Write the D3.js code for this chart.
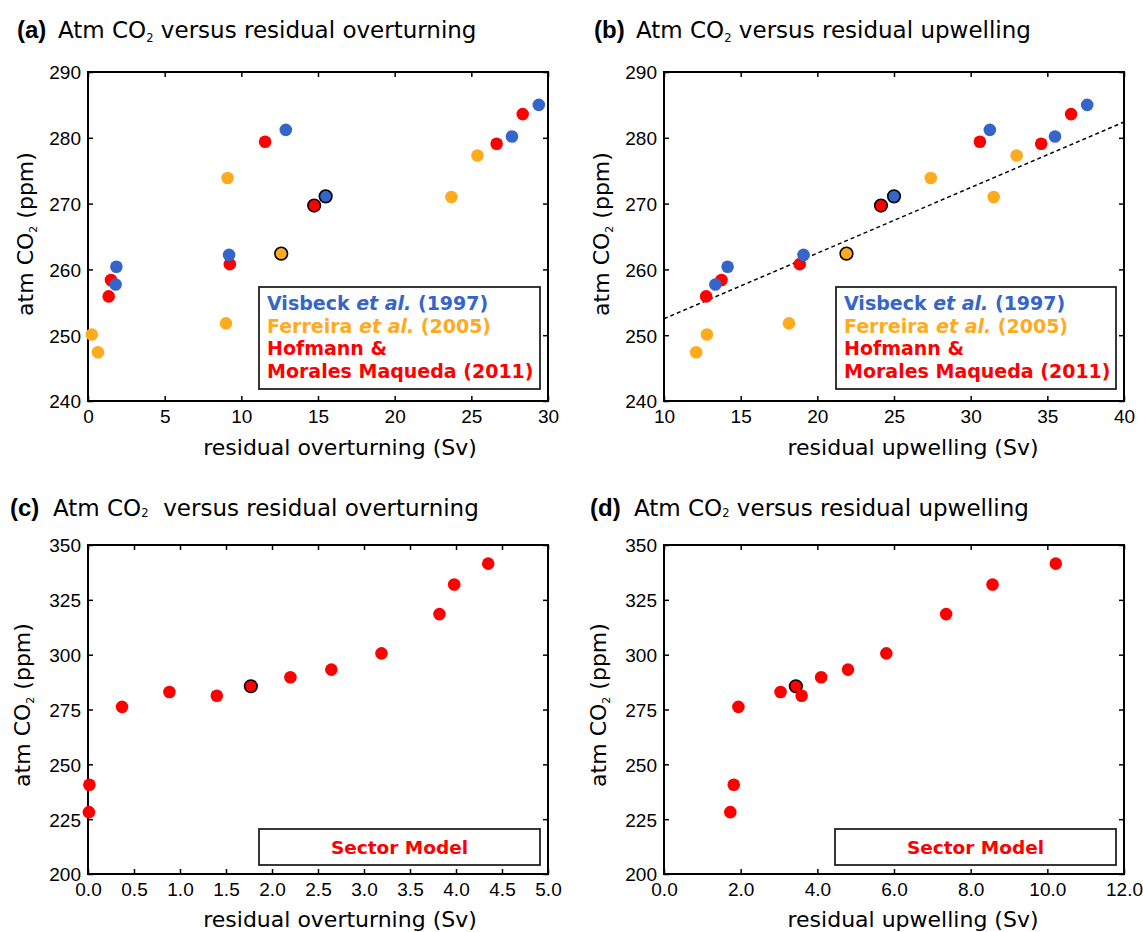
<!DOCTYPE html>
<html>
<head>
<meta charset="utf-8">
<script src="https://cdn.jsdelivr.net/npm/d3@7"></script>
<style>
  html, body { margin: 0; padding: 0; background: #fff; }
  svg { display: block; }
</style>
</head>
<body>
<svg id="chart" width="1143" height="932"></svg>
<script>
// ---------------- DATA ----------------
// Visbeck et al. (1997)
const visbeckOverturning = [29.4, 27.65, 12.9, 15.5, 9.2, 1.85, 1.8];
const visbeckUpwelling   = [37.6, 35.5, 31.25, 25.0, 19.1, 14.15, 13.35];
const visbeckCO2         = [285.0, 280.2, 281.2, 271.1, 262.2, 260.4, 257.7];
// Ferreira et al. (2005)
const ferreiraOverturning = [25.4, 23.7, 9.1, 12.6, 9.0, 0.25, 0.65];
const ferreiraUpwelling   = [33.0, 31.5, 27.4, 21.9, 18.15, 12.8, 12.1];
const ferreiraCO2         = [277.3, 271.0, 273.9, 262.4, 251.8, 250.1, 247.4];
// Hofmann & Morales Maqueda (2011)
const hofmannOverturning = [28.35, 26.65, 11.55, 14.75, 9.25, 1.5, 1.35];
const hofmannUpwelling   = [36.55, 34.6, 30.6, 24.15, 18.85, 13.75, 12.75];
const hofmannCO2         = [283.6, 279.1, 279.4, 269.7, 260.8, 258.4, 255.9];
// index of the reference (outlined) run in each model list
const modelReferenceIndex = 3;

// Sector model
const sectorOverturning = [4.35, 3.98, 3.82, 3.19, 2.645, 2.2, 1.77, 1.40, 0.885, 0.37, 0.015, 0.01];
const sectorUpwelling   = [10.22, 8.57, 7.36, 5.80, 4.80, 4.10, 3.44, 3.59, 3.04, 1.94, 1.82, 1.73];
const sectorCO2         = [341.5, 332.0, 318.5, 300.6, 293.2, 289.7, 285.6, 281.3, 283.0, 276.2, 240.7, 228.2];
const sectorReferenceIndex = 6;

// Dashed fit line in panel (b)
const trendUpwelling = [10, 40];
const trendCO2       = [252.5, 282.4];

// Axis ticks
const ticksOverturningA = [0, 5, 10, 15, 20, 25, 30];
const ticksUpwellingB   = [10, 15, 20, 25, 30, 35, 40];
const ticksCO2AB        = [240, 250, 260, 270, 280, 290];
const ticksOverturningC = [0, 0.5, 1, 1.5, 2, 2.5, 3, 3.5, 4, 4.5, 5];
const ticksUpwellingD   = [0, 2, 4, 6, 8, 10, 12];
const ticksCO2CD        = [200, 225, 250, 275, 300, 325, 350];

// Legend text
const seriesNames  = ["Visbeck", "Ferreira", "Hofmann"];
const legendYears  = ["(1997)", "(2005)", "(2011)"];

// ---------------- STYLE ----------------
const BLUE = "#3565c8", ORANGE = "#ffab1f", RED = "#ff0000";
const TICKFONT = "'Liberation Sans', Arial, sans-serif";
const LABFONT = "'DejaVu Sans', Verdana, sans-serif";

const svg = d3.select("#chart");

function zip(xs, ys) { return xs.map((x, i) => ({x, y: ys[i], i})); }

function panel(cfg) {
  const g = svg.append("g");
  const x = d3.scaleLinear().domain(cfg.xDomain).range([cfg.left, cfg.right]);
  const y = d3.scaleLinear().domain(cfg.yDomain).range([cfg.bottom, cfg.top]);

  // axes
  const fmtX = cfg.xFormat;
  const ax = g.append("g").attr("transform", `translate(0,${cfg.bottom})`)
    .call(d3.axisBottom(x).tickValues(cfg.xTicks).tickFormat(fmtX).tickSize(-5).tickPadding(9));
  const ay = g.append("g").attr("transform", `translate(${cfg.left},0)`)
    .call(d3.axisLeft(y).tickValues(cfg.yTicks).tickFormat(d3.format("d")).tickSize(-5).tickPadding(7));
  const at = g.append("g").attr("transform", `translate(0,${cfg.top})`)
    .call(d3.axisTop(x).tickValues(cfg.xTicks).tickFormat(() => "").tickSize(-5));
  const ar = g.append("g").attr("transform", `translate(${cfg.right},0)`)
    .call(d3.axisRight(y).tickValues(cfg.yTicks).tickFormat(() => "").tickSize(-5));
  [ax, ay, at, ar].forEach(a => {
    a.select(".domain").remove();
    a.selectAll("line").attr("stroke", "#000").attr("stroke-width", 1.5);
    a.selectAll("text").attr("font-family", TICKFONT).attr("font-size", 19).attr("fill", "#000");
  });
  ay.selectAll("text").attr("dy", "0.36em");

  // frame
  g.append("rect").attr("x", cfg.left).attr("y", cfg.top)
    .attr("width", cfg.right - cfg.left).attr("height", cfg.bottom - cfg.top)
    .attr("fill", "none").attr("stroke", "#000").attr("stroke-width", 2);

  // trend line
  if (cfg.trend) {
    g.append("path").datum(zip(cfg.trend[0], cfg.trend[1]))
      .attr("d", d3.line().x(d => x(d.x)).y(d => y(d.y)))
      .attr("fill", "none").attr("stroke", "#000").attr("stroke-width", 1.5)
      .attr("stroke-dasharray", "4,3");
  }

  // legend box
  const lb = cfg.legendBox;
  g.append("rect").attr("x", lb[0]).attr("y", lb[1]).attr("width", lb[2] - lb[0]).attr("height", lb[3] - lb[1])
    .attr("fill", "#fff").attr("stroke", "#222").attr("stroke-width", 1.8);
  cfg.legend(g, lb);

  // points
  cfg.series.forEach(s => {
    g.append("g").selectAll("circle").data(zip(s.xs, s.ys)).join("circle")
      .attr("cx", d => x(d.x)).attr("cy", d => y(d.y)).attr("r", 6.3)
      .attr("fill", s.color)
      .attr("stroke", d => d.i === s.refIndex ? "#000" : "none")
      .attr("stroke-width", 1.6);
  });

  // title
  const t = cfg.title;
  g.append("text").attr("x", t.lx).attr("y", t.y).attr("font-family", TICKFONT)
    .attr("font-weight", "bold").attr("font-size", 24).text(t.letter);
  const tt = g.append("text").attr("x", t.tx).attr("y", t.y).attr("font-family", LABFONT).attr("font-size", 23);
  tt.append("tspan").text("Atm CO");
  tt.append("tspan").attr("font-size", 11.5).attr("dy", t.subDy).text("2");
  tt.append("tspan").attr("dy", -t.subDy).text(t.rest);

  // x label
  g.append("text").attr("x", cfg.xLabelX).attr("y", cfg.xLabelY).attr("text-anchor", "middle")
    .attr("font-family", LABFONT).attr("font-size", 22).text(cfg.xLabel);
  // y label
  const yl = g.append("text").attr("transform", `translate(${cfg.yLabelX},${cfg.yLabelY}) rotate(-90)`)
    .attr("text-anchor", "middle").attr("font-family", LABFONT).attr("font-size", 22);
  yl.append("tspan").text("atm CO");
  yl.append("tspan").attr("font-size", 11).attr("dy", 4).text("2");
  yl.append("tspan").attr("dy", -4).text(" (ppm)");
}

function modelLegend(g, lb) {
  const x0 = lb[0] + 8;
  const colors = [BLUE, ORANGE, RED];
  const base = lb[1] + 23;
  const step = 22.5;
  for (let k = 0; k < 2; k++) {
    const t = g.append("text").attr("x", x0).attr("y", base + k * step)
      .attr("font-family", LABFONT).attr("font-weight", "bold").attr("font-size", 19).attr("fill", colors[k]);
    t.append("tspan").text(seriesNames[k] + " ");
    t.append("tspan").attr("font-style", "italic").text("et al.");
    t.append("tspan").text(" " + legendYears[k]);
  }
  g.append("text").attr("x", x0).attr("y", base + 2 * step)
    .attr("font-family", LABFONT).attr("font-weight", "bold").attr("font-size", 19).attr("fill", RED)
    .text(seriesNames[2] + " &");
  g.append("text").attr("x", x0).attr("y", base + 3 * step)
    .attr("font-family", LABFONT).attr("font-weight", "bold").attr("font-size", 19).attr("fill", RED)
    .text("Morales Maqueda " + legendYears[2]);
}

function sectorLegend(g, lb) {
  g.append("text").attr("x", (lb[0] + lb[2]) / 2).attr("y", lb[1] + 25).attr("text-anchor", "middle")
    .attr("font-family", LABFONT).attr("font-weight", "bold").attr("font-size", 18.5).attr("fill", RED)
    .text("Sector Model");
}

const intFmt = d3.format("d");
const oneDec = d3.format(".1f");

// (a)
panel({
  left: 88, right: 548, top: 72, bottom: 401,
  xDomain: [0, 30], yDomain: [240, 290], xTicks: ticksOverturningA, yTicks: ticksCO2AB, xFormat: intFmt,
  series: [
    {xs: ferreiraOverturning, ys: ferreiraCO2, color: ORANGE, refIndex: modelReferenceIndex},
    {xs: hofmannOverturning, ys: hofmannCO2, color: RED, refIndex: modelReferenceIndex},
    {xs: visbeckOverturning, ys: visbeckCO2, color: BLUE, refIndex: modelReferenceIndex}
  ],
  legendBox: [259, 287, 540, 389], legend: modelLegend,
  title: {letter: "(a)", lx: 17, tx: 58, y: 38, rest: " versus residual overturning", subDy: 4},
  xLabel: "residual overturning (Sv)", xLabelX: 340, xLabelY: 455,
  yLabelX: 33, yLabelY: 234
});

// (b)
panel({
  left: 664, right: 1124, top: 72, bottom: 401,
  xDomain: [10, 40], yDomain: [240, 290], xTicks: ticksUpwellingB, yTicks: ticksCO2AB, xFormat: intFmt,
  trend: [trendUpwelling, trendCO2],
  series: [
    {xs: ferreiraUpwelling, ys: ferreiraCO2, color: ORANGE, refIndex: modelReferenceIndex},
    {xs: hofmannUpwelling, ys: hofmannCO2, color: RED, refIndex: modelReferenceIndex},
    {xs: visbeckUpwelling, ys: visbeckCO2, color: BLUE, refIndex: modelReferenceIndex}
  ],
  legendBox: [836, 287, 1116, 389], legend: modelLegend,
  title: {letter: "(b)", lx: 594, tx: 636, y: 38, rest: " versus residual upwelling", subDy: 4},
  xLabel: "residual upwelling (Sv)", xLabelX: 913, xLabelY: 455,
  yLabelX: 609, yLabelY: 234
});

// (c)
panel({
  left: 88, right: 548, top: 545, bottom: 874,
  xDomain: [0, 5], yDomain: [200, 350], xTicks: ticksOverturningC, yTicks: ticksCO2CD, xFormat: oneDec,
  series: [
    {xs: sectorOverturning, ys: sectorCO2, color: RED, refIndex: sectorReferenceIndex}
  ],
  legendBox: [259, 829, 540, 865], legend: sectorLegend,
  title: {letter: "(c)", lx: 10, tx: 53, y: 516, rest: "\u00A0 versus residual overturning", subDy: 1},
  xLabel: "residual overturning (Sv)", xLabelX: 340, xLabelY: 927,
  yLabelX: 30, yLabelY: 705
});

// (d)
panel({
  left: 664, right: 1124, top: 545, bottom: 874,
  xDomain: [0, 12], yDomain: [200, 350], xTicks: ticksUpwellingD, yTicks: ticksCO2CD, xFormat: oneDec,
  series: [
    {xs: sectorUpwelling, ys: sectorCO2, color: RED, refIndex: sectorReferenceIndex}
  ],
  legendBox: [835, 829, 1116, 865], legend: sectorLegend,
  title: {letter: "(d)", lx: 590, tx: 634, y: 516, rest: " versus residual upwelling", subDy: 1},
  xLabel: "residual upwelling (Sv)", xLabelX: 913, xLabelY: 927,
  yLabelX: 606, yLabelY: 705
});
</script>
</body>
</html>
